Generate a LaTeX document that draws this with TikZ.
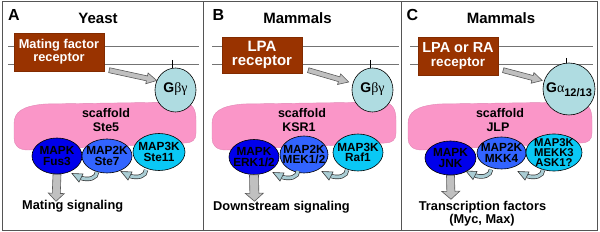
\documentclass[tikz,border=0pt]{standalone}
\usepackage{fontspec}
\setmainfont{Liberation Sans}
\newfontfamily\grk{Liberation Serif}
\usetikzlibrary{shapes.geometric,calc}
\definecolor{brownc}{RGB}{153,51,0}
\definecolor{gblue}{RGB}{175,220,225}
\definecolor{pinkc}{RGB}{250,150,200}
\definecolor{mapkc}{RGB}{0,0,235}
\definecolor{maptwoc}{RGB}{50,100,255}
\definecolor{mapthreec}{RGB}{10,200,245}
\definecolor{curc}{RGB}{170,205,212}
\definecolor{arrgray}{RGB}{192,192,192}
\definecolor{framec}{RGB}{85,85,85}
\newcommand\blockarrow[5]{%
  \coordinate (bt) at (#1);
  \coordinate (bp) at (#2);
  \coordinate (hb) at ($(bp)!#5!(bt)$);
  \filldraw[barrow] ($(bt)!#3!90:(bp)$) -- ($(hb)!#3!-90:(bt)$) -- ($(hb)!#4!-90:(bt)$) -- (bp)
    -- ($(hb)!#4!90:(bt)$) -- ($(hb)!#3!90:(bt)$) -- ($(bt)!#3!-90:(bp)$) -- cycle;}
\newcommand\curvarrow[1]{%
  \coordinate (ct) at (#1);
  \coordinate (cca) at ($(ct)+(0,6)$);
  \coordinate (ccb) at ($(ct)+(-8,8.5)$);
  \coordinate (chb) at ($(ct)+(-16,6)$);
  \coordinate (ctp) at ($(ct)+(-25,1.5)$);
  \draw[line width=4.4pt, draw=black!80] (ct) .. controls (cca) and (ccb) .. (chb);
  \draw[line width=3pt, draw=curc] (ct) .. controls (cca) and (ccb) .. (chb);
  \filldraw[fill=curc, draw=black!80, line width=0.6pt] ($(chb)!4.5pt!90:(ctp)$) -- (ctp) -- ($(chb)!4.5pt!-90:(ctp)$) -- cycle;}
\newcommand\scafblob[2]{%
  \filldraw[scaf] (#1,124) .. controls (#1,112) and (#1+8,106) .. (#1+31,104) -- (#2-13,102)
    .. controls (#2-3,103) and (#2,110) .. (#2,120) -- (#2,133)
    .. controls (#2,140) and (#2-4,143) .. (#2-11,143) -- (#1+14,150)
    .. controls (#1+4,150) and (#1,145) .. (#1,138) -- cycle;}
\begin{document}
\begin{tikzpicture}[x=1pt,y=-1pt,
  frame/.style={draw=framec, line width=1.3pt},
  memb/.style={draw=black!55, line width=0.8pt},
  plabel/.style={inner sep=0pt, font=\fontsize{16}{16}\selectfont\bfseries},
  ptitle/.style={inner sep=0pt, font=\fontsize{15}{15}\selectfont\bfseries},
  receptor/.style={rectangle, fill=brownc, draw=brownc!85!black, line width=0.4pt, text=white, align=center, inner sep=0pt},
  gprot/.style={ellipse, draw=black, line width=0.6pt, fill=gblue, inner sep=0pt},
  kin/.style={ellipse, draw=black, line width=0.6pt, inner sep=0pt},
  ktext/.style={inner sep=0pt, align=center, font=\fontsize{11.8}{10.4}\selectfont\bfseries},
  stext/.style={inner sep=0pt, font=\fontsize{12.5}{12.5}\selectfont\bfseries},
  btext/.style={inner sep=0pt, font=\fontsize{12.8}{12.8}\selectfont\bfseries},
  scaf/.style={fill=pinkc, draw=pinkc!90!black, line width=0.4pt},
  barrow/.style={fill=arrgray, draw=black!65, line width=0.6pt},
  tickl/.style={draw=black, line width=0.6pt}]
\useasboundingbox (0,0) rectangle (600,232);
% frame
\draw[frame] (2.5,1.5) rectangle (597.5,230.5);
\draw[frame] (203.5,1.5) -- (203.5,230.5);
\draw[frame] (401.5,1.5) -- (401.5,230.5);
% titles
\node[plabel, anchor=base west] (la) at (8,20.5) {A};
\node[ptitle, anchor=base] (ta) at (98,23.3) {Yeast};
\node[plabel, anchor=base west] (lb) at (212.5,20.5) {B};
\node[ptitle, anchor=base] (tb) at (297.5,23.3) {Mammals};
\node[plabel, anchor=base west] (lc) at (406.5,20.5) {C};
\node[ptitle, anchor=base] (tc) at (501,23.3) {Mammals};
% membranes
\draw[memb] (8,46) -- (199,46);
\draw[memb] (8,64) -- (199,64);
\draw[memb] (212,46) -- (399,46);
\draw[memb] (212,64) -- (399,64);
\draw[memb] (410,46) -- (593,46);
\draw[memb] (410,64) -- (593,64);
% receptors
\node[receptor, minimum width=90pt, minimum height=38pt, font=\fontsize{12.8}{12.8}\selectfont\bfseries] (r1) at (59,52) {Mating factor\\receptor};
\node[receptor, minimum width=80pt, minimum height=36pt, font=\fontsize{15}{14}\selectfont\bfseries] (r2) at (262,55) {LPA\\receptor};
\node[receptor, minimum width=80pt, minimum height=38pt, font=\fontsize{14.5}{13.5}\selectfont\bfseries] (r3) at (458,56) {LPA or RA\\{\fontsize{13.5}{13.5}\selectfont receptor}};
% scaffolds
\scafblob{14}{196}
\scafblob{212}{396}
\scafblob{408}{592}
% G proteins
\draw[tickl] (172,60) -- (172,68);
\draw[tickl] (370,60) -- (370,68);
\draw[tickl] (566,58) -- (566,64);
\node[gprot, minimum width=41pt, minimum height=44pt] (g1) at (175.5,90) {};
\node[gprot, minimum width=41pt, minimum height=44pt] (g2) at (372.5,90) {};
\node[gprot, minimum width=52pt, minimum height=52pt] (g3) at (569,89) {};
\node[inner sep=0pt, anchor=base] (g1t) at (175.5,93) {\fontsize{14}{14}\selectfont\bfseries G{\grk\mdseries βγ}};
\node[inner sep=0pt, anchor=base] (g2t) at (372.5,93) {\fontsize{14}{14}\selectfont\bfseries G{\grk\mdseries βγ}};
\node[inner sep=0pt, anchor=base] (g3t) at (569,93) {\fontsize{14}{14}\selectfont\bfseries G{\grk\mdseries α}\raisebox{-4pt}{\fontsize{11}{11}\selectfont 12/13}};
% receptor -> G arrows
\blockarrow{$(r1.south east)+(5,-1)$}{$(g1.west)+(2,-9.5)$}{2.5pt}{5.5pt}{10pt}
\blockarrow{$(r2.south east)+(6,-3)$}{$(g2.west)+(-3,-8)$}{2.5pt}{5.5pt}{10pt}
\blockarrow{$(r3.south east)+(5,-5)$}{$(g3.west)+(-0.5,-8.5)$}{2.5pt}{5.5pt}{10pt}
% scaffold labels
\node[stext, anchor=base] (sa1) at (106,118) {scaffold};
\node[stext, anchor=base] (sa2) at (106,131.5) {Ste5};
\node[stext, anchor=base] (sb1) at (302,118) {scaffold};
\node[stext, anchor=base] (sb2) at (299,131.5) {KSR1};
\node[stext, anchor=base] (sc1) at (500,118) {scaffold};
\node[stext, anchor=base] (sc2) at (498,131.5) {JLP};
% kinases A
\node[kin, fill=mapkc, minimum width=50pt, minimum height=36pt] (a1) at (57,156) {};
\node[kin, fill=maptwoc, minimum width=50pt, minimum height=34pt] (a2) at (107,156) {};
\node[kin, fill=mapthreec, minimum width=52pt, minimum height=37pt] (a3) at (159,152) {};
\node[ktext] (a1t) at (a1) {MAPK\\Fus3};
\node[ktext] (a2t) at (a2) {MAP2K\\Ste7};
\node[ktext] (a3t) at (a3) {MAP3K\\Ste11};
% kinases B
\node[kin, fill=mapkc, minimum width=50pt, minimum height=35pt] (b1) at (254,157) {};
\node[kin, fill=maptwoc, minimum width=48pt, minimum height=37pt] (b2) at (304,154.5) {};
\node[kin, fill=mapthreec, minimum width=50pt, minimum height=37pt] (b3) at (358,152.5) {};
\node[ktext] (b1t) at (b1) {MAPK\\ERK1/2};
\node[ktext] (b2t) at (b2) {MAP2K\\MEK1/2};
\node[ktext] (b3t) at (b3) {MAP3K\\Raf1};
% kinases C
\node[kin, fill=mapkc, minimum width=51pt, minimum height=34pt] (c1) at (450.5,158) {};
\node[kin, fill=maptwoc, minimum width=49pt, minimum height=32pt] (c2) at (501.5,153) {};
\node[kin, fill=mapthreec, minimum width=56pt, minimum height=37pt] (c3) at (554,152.5) {};
\node[ktext] (c1t) at (c1) {MAPK\\JNK};
\node[ktext] (c2t) at (c2) {MAP2K\\MKK4};
\node[ktext, font=\fontsize{11.3}{9.9}\selectfont\bfseries] (c3t) at (c3) {MAP3K\\MEKK3\\ASK1?};
% curved activation arrows
\curvarrow{$(a2.center)+(-10,16)$}
\curvarrow{$(a3.center)+(-13,18)$}
\curvarrow{$(b2.center)+(-6,16.5)$}
\curvarrow{$(b3.center)+(-11,17.5)$}
\curvarrow{$(c2.center)+(-10.5,16.5)$}
\curvarrow{$(c3.center)+(-11,17.5)$}
% down arrows
\blockarrow{a1.south}{$(a1.south)+(-1,27)$}{4pt}{8pt}{8pt}
\blockarrow{b1.south}{$(b1.south)+(0.5,26.5)$}{4.5pt}{9pt}{8pt}
\blockarrow{c1.south}{$(c1.south)+(0.5,24)$}{4pt}{9pt}{8pt}
% outputs
\node[btext, anchor=base west] (oa) at (22,210) {Mating signaling};
\node[btext, anchor=base west] (ob) at (213,211) {Downstream signaling};
\node[btext, anchor=base] (oc1) at (482.5,211) {Transcription factors};
\node[btext, anchor=base] (oc2) at (482,224) {(Myc, Max)};
\end{tikzpicture}
\end{document}
